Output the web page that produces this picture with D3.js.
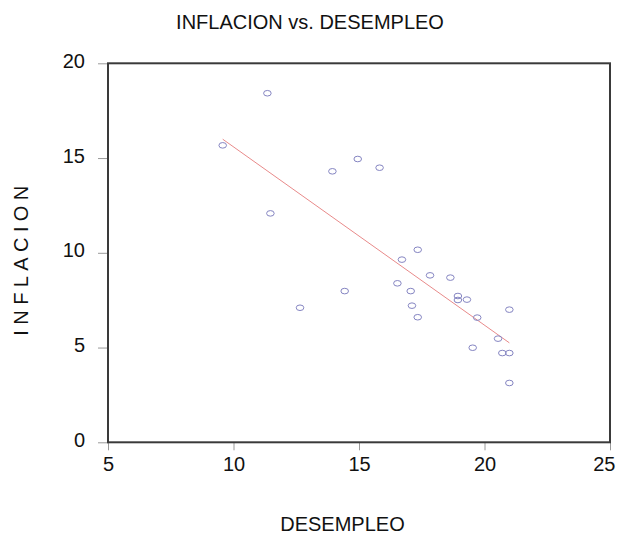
<!DOCTYPE html>
<html><head><meta charset="utf-8">
<script src="https://cdn.jsdelivr.net/npm/d3@7"></script>
<style>
html,body{margin:0;padding:0;background:#fff;}
svg{display:block;font-family:"Liberation Sans",Arial,sans-serif;}
</style></head>
<body>
<svg id="chart" width="617" height="534"></svg>
<script>
const desempleo = [11.35, 9.57, 14.95, 13.94, 15.82, 11.47, 17.34, 16.71, 17.83, 18.64, 16.53, 14.43, 17.06, 18.94, 18.94, 19.30, 12.65, 17.11, 20.99, 17.34, 19.71, 20.54, 19.53, 20.71, 20.99, 20.99];
const inflacion = [18.42, 15.67, 14.95, 14.30, 14.49, 12.08, 10.16, 9.64, 8.81, 8.69, 8.39, 7.98, 7.98, 7.72, 7.51, 7.53, 7.10, 7.21, 7.00, 6.60, 6.58, 5.47, 4.99, 4.71, 4.71, 3.13];
const fitIntercept = 25.0;
const fitSlope = -0.941;
const xTicks = [5, 10, 15, 20, 25];
const yTicks = [0, 5, 10, 15, 20];
const title = "INFLACION vs. DESEMPLEO";
const xTitle = "DESEMPLEO";
const yTitle = "INFLACION";

const svg = d3.select("#chart");
const L = 108, R = 610, T = 63.3, B = 442.3;
const x = d3.scaleLinear().domain([5, 25]).range([L, R]);
const y = d3.scaleLinear().domain([0, 20]).range([B, T]);

// ticks
const xAxis = svg.append("g").attr("transform", `translate(0,${B})`)
  .call(d3.axisBottom(x).tickValues(xTicks).tickSize(8).tickPadding(5).tickFormat(d3.format("d")));
const yAxis = svg.append("g").attr("transform", `translate(${L},0)`)
  .call(d3.axisLeft(y).tickValues(yTicks).tickSize(10).tickPadding(13).tickFormat(d3.format("d")));
[xAxis, yAxis].forEach(a => {
  a.select(".domain").remove();
  a.selectAll(".tick line").attr("stroke", "#9a9a9a").attr("stroke-width", 1);
  a.selectAll(".tick text").attr("fill", "#111").style("font-size", "20px")
    .style("font-family", '"Liberation Sans",Arial,sans-serif');
});
yAxis.selectAll(".tick text").attr("dy", "0.2em");
xAxis.selectAll(".tick text").attr("dy", "0.78em");
// keep the last label inside the page, as in the reference
xAxis.selectAll(".tick text").filter(d => d === xTicks[xTicks.length - 1])
  .attr("text-anchor", "end").attr("x", 617 - R - 2);

// frame
svg.append("rect").attr("x", L).attr("y", T).attr("width", R - L).attr("height", B - T)
  .attr("fill", "none").attr("stroke", "#3a3a3a").attr("stroke-width", 2);

// regression line
const xe = d3.extent(desempleo);
const line = d3.line().x(d => x(d)).y(d => y(fitIntercept + fitSlope * d));
svg.append("path").attr("d", line(xe)).attr("fill", "none")
  .attr("stroke", "#e88a8a").attr("stroke-width", 1);

// points
svg.append("g").selectAll("ellipse").data(desempleo).join("ellipse")
  .attr("cx", d => x(d)).attr("cy", (d, i) => y(inflacion[i]))
  .attr("rx", 3.8).attr("ry", 2.8)
  .attr("fill", "none").attr("stroke", "#8585c2").attr("stroke-width", 1);

// titles
svg.append("text").attr("x", 310).attr("y", 29).attr("text-anchor", "middle")
  .style("font-size", "20px").attr("fill", "#111").text(title);
svg.append("text").attr("x", 342.5).attr("y", 530.5).attr("text-anchor", "middle")
  .style("font-size", "20px").attr("fill", "#111").text(xTitle);
svg.append("text").attr("transform", "translate(28,258) rotate(-90)")
  .attr("text-anchor", "middle").style("font-size", "20px").style("letter-spacing", "5.4px")
  .attr("fill", "#111").text(yTitle);
</script>
</body></html>
